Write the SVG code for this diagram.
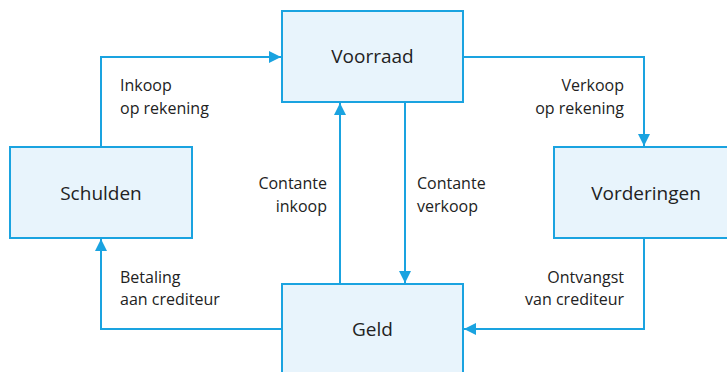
<svg xmlns="http://www.w3.org/2000/svg" width="727" height="372" viewBox="0 0 727 372">
<style>
.box{fill:#e8f4fc;stroke:#1aa3e0;stroke-width:2}
.nt{font-family:"Open Sans","Noto Sans",sans-serif;font-size:19px;fill:#222;text-anchor:middle}
.lb{font-family:"Open Sans","Noto Sans",sans-serif;font-size:16px;fill:#222}
.r{text-anchor:end}
.ln{fill:none;stroke:#1aa3e0;stroke-width:2}
</style>
<defs>
<marker id="ah" viewBox="0 0 12 12" refX="12" refY="6" markerWidth="12" markerHeight="12" markerUnits="userSpaceOnUse" orient="auto">
<path d="M0,0 L12,6 L0,12 Z" fill="#1aa3e0"/>
</marker>
</defs>
<rect width="727" height="372" fill="#fff"/>
<g id="connectors">
<path class="ln" d="M101,147 V57 H281" marker-end="url(#ah)"/>
<path class="ln" d="M463,57 H644 V146" marker-end="url(#ah)"/>
<path class="ln" d="M405,102 V283" marker-end="url(#ah)"/>
<path class="ln" d="M340,284 V103" marker-end="url(#ah)"/>
<path class="ln" d="M282,329 H101 V239" marker-end="url(#ah)"/>
<path class="ln" d="M644,238 V329 H464" marker-end="url(#ah)"/>
</g>
<g id="voorraad"><rect class="box" x="282" y="11" width="181" height="91"/><text class="nt" x="372.5" y="63">Voorraad</text></g>
<g id="schulden"><rect class="box" x="10" y="147" width="182" height="91"/><text class="nt" x="101" y="200">Schulden</text></g>
<g id="vorderingen"><rect class="box" x="554" y="147" width="182" height="91"/><text class="nt" x="646" y="200">Vorderingen</text></g>
<g id="geld"><rect class="box" x="282" y="284" width="181" height="91"/><text class="nt" x="372.5" y="336">Geld</text></g>
<g id="labels">
<text class="lb" x="120" y="91">Inkoop</text><text class="lb" x="120" y="114">op rekening</text>
<text class="lb r" x="624" y="91">Verkoop</text><text class="lb r" x="624" y="114">op rekening</text>
<text class="lb r" x="327" y="189">Contante</text><text class="lb r" x="327" y="212">inkoop</text>
<text class="lb" x="417" y="189">Contante</text><text class="lb" x="417" y="212">verkoop</text>
<text class="lb" x="120" y="283">Betaling</text><text class="lb" x="120" y="305">aan crediteur</text>
<text class="lb r" x="624" y="283">Ontvangst</text><text class="lb r" x="624" y="305">van crediteur</text>
</g>
</svg>
